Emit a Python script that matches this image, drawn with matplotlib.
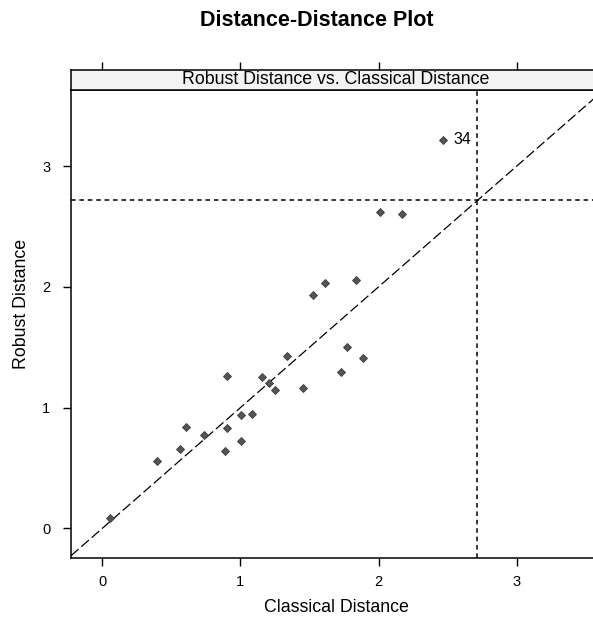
import numpy as np
import matplotlib.pyplot as plt

plt.rcParams['font.family'] = ['Liberation Sans', 'DejaVu Sans']

# classical vs robust mahalanobis distances
classical = [0.055, 0.393, 0.562, 0.605, 0.735, 0.885, 0.902, 0.902, 1.001, 1.003,
             1.083, 1.153, 1.205, 1.254, 1.336, 1.454, 1.729, 1.775, 1.889, 2.014,
             2.168, 1.522, 1.611, 1.835, 2.47]
robust = [0.09, 0.56, 0.66, 0.837, 0.776, 0.64, 0.828, 1.266, 0.94, 0.72,
          0.948, 1.255, 1.2, 1.144, 1.43, 1.163, 1.293, 1.498, 1.415, 2.616,
          2.607, 1.93, 2.03, 2.06, 3.22]
labels = {24: '34'}
cutoff = 2.716
ticks = [0, 1, 2, 3]

W, H = 593, 628
fig = plt.figure(figsize=(W / 100, H / 100), dpi=100)

# panel in pixel units
left, right, top, bottom = 71, 601, 90, 558
ax = fig.add_axes([left / W, 1 - bottom / H, (right - left) / W, (bottom - top) / H])
xlim = (-0.226, 3.61)
ylim = (-0.245, 3.63)

ax.plot(xlim, xlim, color='black', lw=0.9, dashes=(8, 3))
ax.axhline(cutoff, color='black', lw=1.1, dashes=(3, 2.5))
ax.axvline(cutoff, color='black', lw=1.1, dashes=(3, 2.5))
ax.plot(classical, robust, 'D', color='#555555', markersize=3.6, markeredgewidth=0.6,
        markeredgecolor='#3a3a3a')
for i, t in labels.items():
    ax.text(classical[i] + 0.07, robust[i], t, fontsize=11.5, va='center', ha='left')

ax.set_xlim(xlim)
ax.set_ylim(ylim)
ax.set_xticks(ticks)
ax.set_yticks(ticks)
ax.tick_params(direction='out', length=6, width=1, labelsize=10.5)
ax.tick_params(axis='y', pad=9)
ax.tick_params(axis='x', pad=6)
for s in ax.spines.values():
    s.set_linewidth(1.1)

# strip on top of the panel
stop = 70
sax = fig.add_axes([left / W, 1 - top / H, (right - left) / W, (top - stop) / H])
sax.set_facecolor('#f3f3f3')
sax.set_xlim(xlim)
sax.set_yticks([])
sax.set_xticks(ticks)
sax.tick_params(axis='x', direction='out', length=6, width=1, top=True, bottom=False,
                labeltop=False, labelbottom=False)
for s in sax.spines.values():
    s.set_linewidth(1.1)
sax.text(0.5, 0.5, 'Robust Distance vs. Classical Distance', transform=sax.transAxes,
         ha='center', va='center', fontsize=12.8)

fig.text(317 / W, 1 - 20 / H, 'Distance-Distance Plot', ha='center', va='center',
         fontsize=15.5, fontweight='bold')
fig.text(336 / W, 1 - 607 / H, 'Classical Distance', ha='center', va='center', fontsize=12.8)
fig.text(22 / W, 1 - 304 / H, 'Robust Distance', ha='center', va='center', fontsize=12.8,
         rotation=90)

fig.savefig('out.png', dpi=100)
